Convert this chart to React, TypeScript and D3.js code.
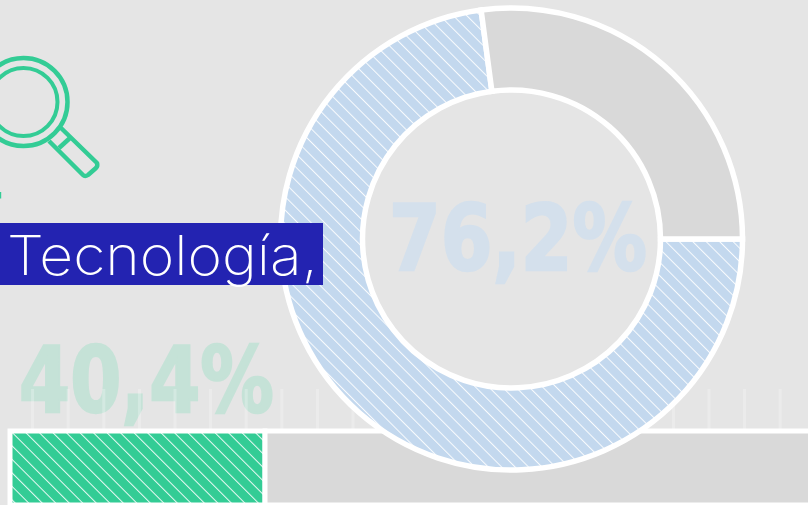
import React from "react";
import * as d3 from "d3";

const W = 808, H = 505;
const donutLabels = ["Sí", "No"];
const donutValues = [72.9, 27.1];
const donutText = "76,2%";
const barValues = [40.4, 100];
const barText = "40,4%";
const title = "Tecnología,";
const tickIndex = d3.range(0, 22);

export default function App() {
  const pie = d3.pie<number>().sort(null).startAngle(Math.PI / 2).endAngle(Math.PI * 2.5);
  const arc = d3.arc<d3.PieArcDatum<number>>().innerRadius(149).outerRadius(231);
  const slices = pie(donutValues);
  const x = d3.scaleLinear().domain([0, 40.4]).range([10, 265]);
  const tx = d3.scaleLinear().domain([0, 1]).range([32.6, 68.2]);
  const fills = ["url(#hb)", "#d9d9d9"];
  return (
    <svg width={W} height={H} viewBox={`0 0 ${W} ${H}`} style={{ position: "absolute", left: 0, top: 0, display: "block" }}>
      <defs>
        <pattern id="hb" width="9.5" height="9.5" patternUnits="userSpaceOnUse" patternTransform="translate(511 239) rotate(-45)">
          <rect width="9.5" height="9.5" fill="#c3d8ee" />
          <rect width="1" height="9.5" fill="#fff" opacity="0.9" />
        </pattern>
        <pattern id="hg" width="9.55" height="9.55" patternUnits="userSpaceOnUse" patternTransform="translate(12 433) rotate(-45)">
          <rect width="9.55" height="9.55" fill="#33cc95" />
          <rect width="1" height="9.55" fill="#fff" opacity="0.9" />
        </pattern>
      </defs>
      <rect width={W} height={H} fill="#e5e5e5" />

      <text x={19} y={411.5} fontFamily="'DejaVu Sans', sans-serif" fontWeight={700} fontSize={90} fill="#c5e2d7" textLength={255} lengthAdjust="spacingAndGlyphs" stroke="#c5e2d7" strokeWidth={2.5}>{barText}</text>
      {tickIndex.map((i) => (
        <rect key={i} x={tx(i) - 1.5} y={389} width={3} height={41} fill="#fff" opacity={0.25} />
      ))}

      <rect x={x(0)} y={431} width={x(barValues[0]) - x(0)} height={74} fill="url(#hg)" stroke="#fff" strokeWidth={5} />
      <rect x={x(barValues[0])} y={431} width={x(barValues[1]) - x(0)} height={74} fill="#d9d9d9" stroke="#fff" strokeWidth={5} />

      <g transform="translate(511.5 239)">
        {slices.map((s, i) => (
          <path key={donutLabels[i]} d={arc(s) ?? ""} fill={fills[i]} stroke="#fff" strokeWidth={5.5} />
        ))}
      </g>
      <text x={389} y={270} fontFamily="'DejaVu Sans', sans-serif" fontWeight={700} fontSize={90} fill="#d4e0ec" textLength={258} lengthAdjust="spacingAndGlyphs" stroke="#d4e0ec" strokeWidth={2.5}>{donutText}</text>

      <g fill="none" stroke="#33cc95" strokeWidth={4.5} strokeLinejoin="round">
        <circle cx={23.5} cy={102} r={44} />
        <circle cx={23.5} cy={102} r={34} strokeWidth={4} />
        <path d="M61 128 L97 163 Q98 166 96 168 L88 175 Q85 177 83 175 L49 141" />
        <path d="M70 138 L59 148" />
      </g>
      <rect x={0} y={192} width={1.2} height={6.5} fill="#33cc95" />

      <rect x={0} y={223} width={323} height={62} fill="#2323b1" />
      <text x={7} y={275} fontFamily="Inter, sans-serif" fontWeight={250} fontSize={55} fill="#fff" textLength={311} lengthAdjust="spacingAndGlyphs">{title}</text>
    </svg>
  );
}
